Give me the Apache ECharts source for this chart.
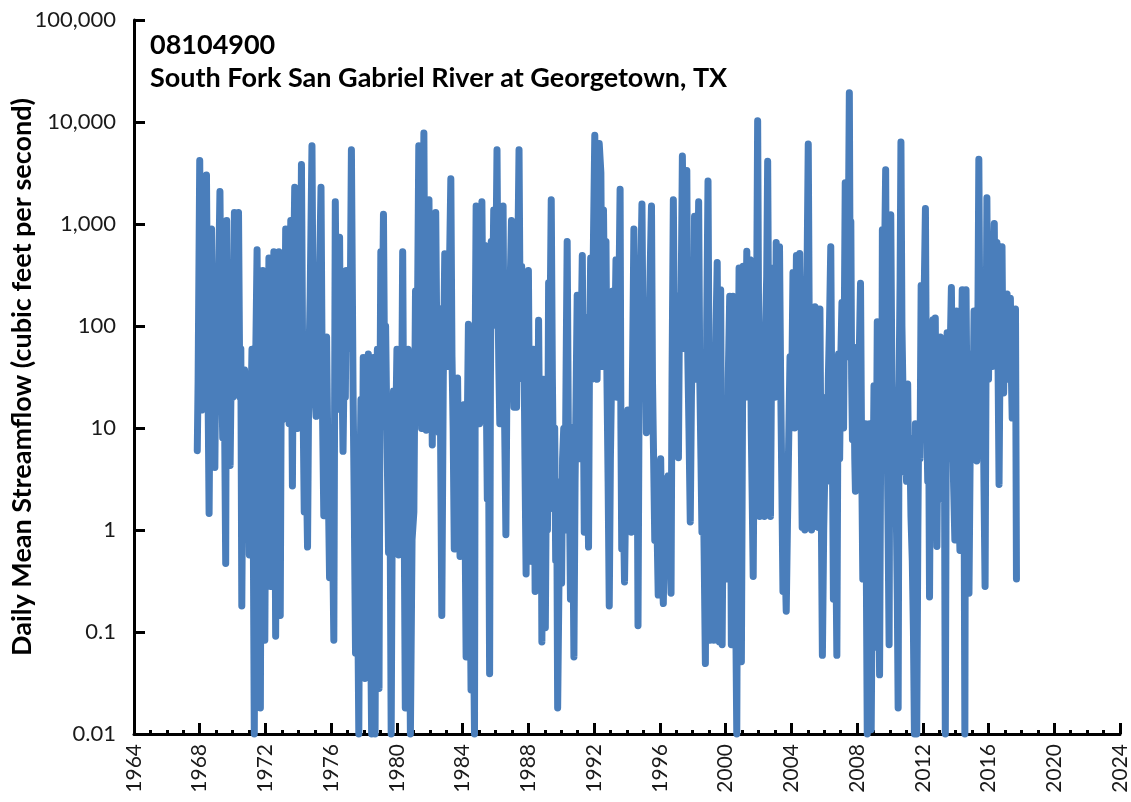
<!DOCTYPE html>
<html>
<head>
<meta charset="utf-8">
<script src="https://cdn.jsdelivr.net/npm/echarts@6/dist/echarts.min.js"></script>
<style>
  html, body { margin: 0; padding: 0; background: #fff; }
  #chart { width: 1131px; height: 802px; }
</style>
</head>
<body>
<div id="chart"></div>
<script>
// Station identification
const stationId = '08104900';
const stationName = 'South Fork San Gabriel River at Georgetown, TX';
const yAxisTitle = 'Daily Mean Streamflow (cubic feet per second)';

// Axis ticks
const yearTicks = [1964, 1968, 1972, 1976, 1980, 1984, 1988, 1992, 1996, 2000, 2004, 2008, 2012, 2016, 2020, 2024];
const flowTicks = [0.01, 0.1, 1, 10, 100, 1000, 10000, 100000];

// Daily mean streamflow samples, [decimal year, cfs], grouped by period
const flows1967to1979 = [
  [1967.85, 6], [1967.90, 28], [1968.00, 4200], [1968.06, 60], [1968.12, 15], [1968.21, 40], [1968.30, 120],
  [1968.41, 3030], [1968.50, 30], [1968.57, 1.45], [1968.64, 50], [1968.72, 895], [1968.80, 20], [1968.86, 80],
  [1968.92, 4.1], [1969.00, 150], [1969.08, 25], [1969.15, 300], [1969.23, 2080], [1969.32, 40], [1969.40, 8],
  [1969.48, 60], [1969.58, 0.47], [1969.64, 1080], [1969.72, 30], [1969.78, 120], [1969.85, 4.3], [1969.93, 60],
  [1970.02, 20], [1970.11, 1300], [1970.17, 80], [1970.23, 25], [1970.30, 200], [1970.36, 1300], [1970.44, 20],
  [1970.50, 60], [1970.56, 0.18], [1970.65, 30], [1970.73, 37], [1970.80, 3], [1970.87, 25], [1970.93, 16],
  [1971.02, 0.57], [1971.10, 10], [1971.18, 59], [1971.25, 2], [1971.32, 0.01], [1971.40, 40], [1971.49, 560],
  [1971.56, 5], [1971.62, 30], [1971.69, 0.018], [1971.76, 60], [1971.84, 350], [1971.90, 3], [1971.96, 0.083],
  [1972.05, 40], [1972.13, 8], [1972.21, 465], [1972.26, 20], [1972.31, 0.28], [1972.38, 50], [1972.44, 6],
  [1972.51, 535], [1972.56, 10], [1972.62, 0.091], [1972.70, 80], [1972.76, 15], [1972.82, 535], [1972.90, 0.145],
  [1972.96, 30], [1973.03, 12], [1973.10, 150], [1973.16, 30], [1973.23, 895], [1973.30, 60], [1973.37, 200],
  [1973.44, 11], [1973.54, 1080], [1973.59, 40], [1973.64, 2.7], [1973.71, 300], [1973.78, 2290], [1973.86, 50],
  [1973.95, 9.9], [1974.02, 200], [1974.10, 40], [1974.19, 3840], [1974.27, 30], [1974.36, 1.5], [1974.44, 20],
  [1974.50, 3], [1974.56, 0.68], [1974.64, 40], [1974.72, 200], [1974.83, 5860], [1974.90, 100], [1974.98, 25],
  [1975.08, 13], [1975.15, 200], [1975.22, 50], [1975.30, 400], [1975.38, 2290], [1975.46, 20], [1975.55, 1.38],
  [1975.63, 15], [1975.72, 78], [1975.80, 5], [1975.90, 0.34], [1976.00, 8], [1976.08, 1], [1976.16, 0.083],
  [1976.25, 1650], [1976.32, 60], [1976.38, 200], [1976.44, 30], [1976.51, 740], [1976.58, 15], [1976.65, 40],
  [1976.72, 5.9], [1976.80, 60], [1976.86, 20], [1976.92, 350], [1977.00, 60], [1977.08, 300], [1977.15, 100],
  [1977.23, 5330], [1977.33, 23], [1977.40, 2], [1977.48, 0.062], [1977.58, 1], [1977.68, 0.01], [1977.75, 3],
  [1977.81, 19], [1977.88, 0.5], [1977.95, 49], [1978.05, 0.035], [1978.12, 5], [1978.19, 0.3], [1978.26, 53],
  [1978.36, 0.5], [1978.46, 0.01], [1978.56, 49], [1978.62, 1], [1978.67, 0.01], [1978.74, 10], [1978.81, 59],
  [1978.91, 0.028], [1978.97, 20], [1979.02, 535], [1979.10, 50], [1979.18, 1245], [1979.25, 30], [1979.31, 100],
  [1979.38, 13], [1979.49, 0.6], [1979.57, 5], [1979.65, 0.01], [1979.72, 2], [1979.79, 23], [1979.86, 1],
  [1979.93, 10]
];
const flows1980to1989 = [
  [1980.00, 59], [1980.05, 3], [1980.10, 0.57], [1980.18, 20], [1980.25, 2], [1980.35, 535], [1980.42, 5],
  [1980.51, 0.018], [1980.60, 3], [1980.68, 59], [1980.75, 0.5], [1980.82, 0.01], [1980.92, 0.8], [1981.03, 1.5],
  [1981.13, 220], [1981.20, 30], [1981.26, 200], [1981.33, 5860], [1981.40, 60], [1981.50, 9.9], [1981.57, 300],
  [1981.64, 7800], [1981.70, 100], [1981.78, 9.5], [1981.86, 200], [1981.95, 1730], [1982.02, 50], [1982.08, 300],
  [1982.15, 6.8], [1982.22, 100], [1982.29, 30], [1982.36, 1300], [1982.44, 40], [1982.50, 150], [1982.56, 9],
  [1982.64, 20], [1982.73, 0.145], [1982.82, 30], [1982.91, 510], [1982.98, 60], [1983.06, 200], [1983.14, 40],
  [1983.21, 500], [1983.28, 2770], [1983.35, 50], [1983.42, 10], [1983.49, 0.65], [1983.57, 5], [1983.63, 1],
  [1983.69, 31], [1983.76, 3], [1983.84, 0.55], [1983.92, 5], [1984.00, 8.2], [1984.10, 17], [1984.15, 1],
  [1984.21, 0.057], [1984.28, 10], [1984.35, 104], [1984.42, 2], [1984.51, 0.027], [1984.60, 0.5], [1984.66, 0.1],
  [1984.72, 0.01], [1984.77, 100], [1984.82, 1500], [1984.90, 60], [1984.96, 200], [1985.03, 11], [1985.10, 300],
  [1985.17, 1650], [1985.24, 80], [1985.30, 150], [1985.37, 615], [1985.44, 20], [1985.50, 2], [1985.57, 10],
  [1985.64, 0.039], [1985.69, 30], [1985.74, 675], [1985.80, 100], [1985.89, 1370], [1985.95, 150], [1986.02, 400],
  [1986.09, 5330], [1986.15, 200], [1986.20, 40], [1986.26, 11], [1986.33, 300], [1986.40, 100], [1986.46, 1500],
  [1986.52, 30], [1986.58, 5], [1986.63, 0.9], [1986.70, 40], [1986.77, 290], [1986.84, 60], [1986.90, 300],
  [1986.97, 1080], [1987.05, 50], [1987.12, 16], [1987.20, 200], [1987.28, 16], [1987.35, 400], [1987.43, 5330],
  [1987.50, 100], [1987.59, 385], [1987.66, 30], [1987.72, 100], [1987.79, 5], [1987.86, 0.37], [1987.93, 20],
  [1988.00, 350], [1988.07, 10], [1988.14, 40], [1988.21, 0.49], [1988.31, 59], [1988.41, 0.25], [1988.48, 10],
  [1988.55, 2], [1988.62, 114], [1988.70, 3], [1988.76, 15], [1988.82, 0.08], [1988.92, 30], [1989.03, 0.11],
  [1989.10, 5], [1989.16, 1], [1989.23, 265], [1989.30, 50], [1989.39, 1730], [1989.46, 30], [1989.54, 1.6],
  [1989.60, 10], [1989.66, 0.5], [1989.72, 3], [1989.78, 0.018], [1989.86, 0.3], [1989.95, 1.38]
];
const flows1990to1999 = [
  [1990.02, 0.3], [1990.08, 5], [1990.15, 9.9], [1990.22, 1], [1990.29, 30], [1990.36, 675], [1990.43, 10],
  [1990.50, 2], [1990.56, 0.21], [1990.66, 10], [1990.77, 0.057], [1990.84, 3], [1990.90, 20], [1990.97, 200],
  [1991.04, 10], [1991.10, 60], [1991.16, 5], [1991.22, 100], [1991.28, 490], [1991.34, 20], [1991.40, 0.95],
  [1991.46, 30], [1991.52, 120], [1991.59, 5], [1991.66, 0.68], [1991.72, 60], [1991.79, 465], [1991.86, 30],
  [1991.93, 300], [1992.04, 7400], [1992.11, 200], [1992.18, 30], [1992.25, 500], [1992.31, 6140], [1992.41, 3190],
  [1992.46, 200], [1992.51, 40], [1992.57, 1370], [1992.65, 60], [1992.72, 675], [1992.78, 30], [1992.85, 3],
  [1992.92, 0.18], [1992.99, 5], [1993.06, 30], [1993.13, 220], [1993.20, 20], [1993.27, 100], [1993.33, 445],
  [1993.39, 40], [1993.45, 20], [1993.52, 300], [1993.58, 2190], [1993.63, 10], [1993.68, 0.65], [1993.75, 5],
  [1993.80, 1], [1993.85, 0.31], [1993.93, 3], [1994.00, 1], [1994.05, 15], [1994.12, 2], [1994.19, 8],
  [1994.26, 0.95], [1994.33, 30], [1994.42, 895], [1994.49, 30], [1994.55, 5], [1994.61, 20], [1994.67, 0.115],
  [1994.74, 30], [1994.82, 200], [1994.91, 1570], [1994.98, 60], [1995.05, 20], [1995.12, 80], [1995.18, 9],
  [1995.25, 100], [1995.32, 40], [1995.40, 300], [1995.49, 1500], [1995.55, 30], [1995.62, 5], [1995.69, 0.79],
  [1995.76, 3], [1995.83, 1], [1995.90, 0.23], [1995.97, 2], [1996.05, 5], [1996.12, 0.5], [1996.21, 0.19],
  [1996.28, 1], [1996.35, 3.2], [1996.43, 0.5], [1996.51, 3.4], [1996.59, 1], [1996.68, 0.24], [1996.74, 30],
  [1996.82, 1730], [1996.89, 60], [1996.95, 200], [1997.02, 20], [1997.08, 60], [1997.13, 5.1], [1997.20, 200],
  [1997.28, 100], [1997.37, 4640], [1997.45, 200], [1997.52, 60], [1997.58, 500], [1997.64, 3340], [1997.70, 50],
  [1997.77, 10], [1997.85, 1.2], [1997.92, 20], [1997.99, 100], [1998.05, 30], [1998.11, 1190], [1998.18, 100],
  [1998.25, 30], [1998.31, 300], [1998.36, 1650], [1998.43, 30], [1998.50, 5], [1998.56, 0.95], [1998.62, 5],
  [1998.70, 0.5], [1998.77, 0.049], [1998.85, 100], [1998.93, 2640], [1999.00, 20], [1999.06, 0.083], [1999.12, 5],
  [1999.18, 59], [1999.28, 0.083], [1999.35, 10], [1999.42, 100], [1999.49, 420], [1999.56, 5], [1999.62, 0.08],
  [1999.70, 227], [1999.79, 0.075], [1999.86, 3], [1999.93, 0.5]
];
const flows2000to2009 = [
  [2000.00, 5], [2000.08, 0.33], [2000.16, 30], [2000.25, 196], [2000.30, 5], [2000.35, 0.075], [2000.45, 196],
  [2000.52, 3], [2000.60, 0.3], [2000.68, 0.01], [2000.75, 10], [2000.82, 370], [2000.90, 3], [2000.96, 0.051],
  [2001.07, 385], [2001.14, 50], [2001.20, 20], [2001.29, 540], [2001.35, 60], [2001.40, 30], [2001.50, 445],
  [2001.56, 10], [2001.62, 2], [2001.68, 0.35], [2001.75, 20], [2001.82, 300], [2001.88, 100], [2001.95, 10300],
  [2002.01, 100], [2002.07, 1.36], [2002.15, 30], [2002.20, 10], [2002.26, 86], [2002.31, 5], [2002.36, 1.36],
  [2002.43, 100], [2002.50, 300], [2002.56, 4120], [2002.62, 80], [2002.68, 10], [2002.73, 1.36], [2002.80, 50],
  [2002.87, 370], [2002.93, 60], [2003.00, 20], [2003.08, 660], [2003.13, 100], [2003.18, 40], [2003.28, 600],
  [2003.35, 30], [2003.42, 3], [2003.49, 0.25], [2003.55, 2], [2003.62, 0.5], [2003.69, 0.16], [2003.76, 1],
  [2003.84, 7.7], [2003.92, 50], [2004.00, 10], [2004.05, 60], [2004.10, 335], [2004.15, 40], [2004.20, 10],
  [2004.31, 490], [2004.36, 50], [2004.41, 15], [2004.46, 100], [2004.51, 515], [2004.58, 20], [2004.66, 1.06],
  [2004.74, 10], [2004.82, 1.0], [2004.90, 100], [2004.96, 400], [2005.03, 6070], [2005.10, 50], [2005.16, 10],
  [2005.23, 1.0], [2005.30, 20], [2005.37, 5], [2005.44, 154], [2005.50, 20], [2005.57, 3], [2005.64, 1.06],
  [2005.69, 30], [2005.74, 147], [2005.80, 5], [2005.89, 0.059], [2005.97, 1], [2006.05, 4.75], [2006.12, 20],
  [2006.18, 3], [2006.25, 30], [2006.32, 100], [2006.40, 600], [2006.46, 20], [2006.52, 2], [2006.56, 0.21],
  [2006.66, 5], [2006.77, 0.059], [2006.83, 10], [2006.87, 53], [2006.94, 5], [2007.00, 40], [2007.08, 170],
  [2007.13, 20], [2007.18, 10], [2007.28, 2540], [2007.35, 200], [2007.40, 50], [2007.46, 500], [2007.53, 19300],
  [2007.58, 200], [2007.62, 1060], [2007.67, 30], [2007.72, 7.7], [2007.80, 50], [2007.86, 5], [2007.90, 2.4],
  [2007.95, 20], [2008.00, 62], [2008.06, 10], [2008.13, 50], [2008.21, 262], [2008.28, 5], [2008.35, 0.33],
  [2008.43, 2], [2008.51, 11], [2008.56, 0.5], [2008.62, 0.01], [2008.69, 1], [2008.76, 11], [2008.81, 0.3],
  [2008.86, 0.011], [2008.95, 1], [2009.03, 26], [2009.08, 1], [2009.13, 0.071], [2009.18, 5], [2009.23, 110],
  [2009.30, 2], [2009.37, 0.038], [2009.45, 20], [2009.50, 5], [2009.54, 877], [2009.60, 60], [2009.67, 400],
  [2009.74, 3400], [2009.80, 30], [2009.87, 2], [2009.95, 0.075]
];
const flows2010to2017 = [
  [2010.00, 50], [2010.05, 1230], [2010.12, 30], [2010.19, 10], [2010.26, 3.7], [2010.33, 20], [2010.40, 1],
  [2010.45, 0.2], [2010.50, 0.018], [2010.56, 30], [2010.62, 300], [2010.67, 6370], [2010.73, 100], [2010.80, 20],
  [2010.87, 3.7], [2010.94, 10], [2011.01, 3], [2011.08, 27], [2011.14, 3], [2011.21, 8], [2011.28, 1.36],
  [2011.36, 0.5], [2011.43, 0.1], [2011.49, 0.01], [2011.55, 11], [2011.63, 0.01], [2011.70, 1], [2011.75, 11],
  [2011.83, 5], [2011.90, 250], [2011.97, 30], [2012.03, 100], [2012.10, 300], [2012.16, 1420], [2012.22, 20],
  [2012.30, 3], [2012.36, 10], [2012.41, 0.22], [2012.48, 20], [2012.55, 5], [2012.62, 115], [2012.70, 5],
  [2012.76, 120], [2012.82, 3], [2012.86, 0.69], [2012.93, 20], [2013.00, 3], [2013.07, 78], [2013.14, 10],
  [2013.20, 2], [2013.30, 50], [2013.37, 0.01], [2013.43, 10], [2013.48, 86], [2013.54, 10], [2013.60, 5],
  [2013.67, 60], [2013.74, 238], [2013.80, 20], [2013.87, 3], [2013.95, 0.8], [2014.00, 20], [2014.05, 140],
  [2014.12, 10], [2014.19, 2], [2014.26, 0.63], [2014.33, 30], [2014.40, 227], [2014.46, 5], [2014.52, 1],
  [2014.56, 0.01], [2014.60, 30], [2014.63, 227], [2014.70, 10], [2014.76, 1], [2014.81, 0.24], [2014.88, 5],
  [2014.97, 53], [2015.04, 10], [2015.12, 140], [2015.20, 20], [2015.28, 4.75], [2015.35, 100], [2015.41, 4320],
  [2015.47, 100], [2015.53, 30], [2015.59, 6.4], [2015.66, 40], [2015.72, 3], [2015.79, 0.28], [2015.85, 50],
  [2015.90, 1810], [2015.95, 100], [2016.00, 30], [2016.05, 200], [2016.10, 350], [2016.16, 50], [2016.22, 40],
  [2016.28, 300], [2016.35, 1010], [2016.40, 100], [2016.45, 60], [2016.51, 660], [2016.58, 40], [2016.64, 2.8],
  [2016.70, 50], [2016.76, 200], [2016.82, 600], [2016.87, 60], [2016.92, 22], [2016.98, 100], [2017.05, 40],
  [2017.13, 206], [2017.18, 50], [2017.23, 30], [2017.33, 187], [2017.38, 40], [2017.44, 12.5], [2017.50, 60],
  [2017.57, 30], [2017.64, 147], [2017.70, 0.33]
];

const seriesData = [].concat(flows1967to1979, flows1980to1989, flows1990to1999, flows2000to2009, flows2010to2017);

function fmtFlow(v) {
  const n = Number(Number(v).toPrecision(2));
  return n >= 1 ? n.toLocaleString('en-US') : String(n);
}

const FONT = 'Lato';

const chart = echarts.init(document.getElementById('chart'), null, { renderer: 'canvas' });

chart.setOption({
  animation: false,
  backgroundColor: '#ffffff',
  textStyle: { fontFamily: FONT },
  title: {
    text: stationId + '\n' + stationName,
    left: 145,
    top: 24,
    textStyle: {
      fontFamily: FONT,
      fontSize: 27,
      fontWeight: 'bold',
      color: '#000',
      lineHeight: 33
    }
  },
  grid: { left: 134, right: 11, top: 20, bottom: 68, containLabel: false, outerBoundsMode: 'none' },
  xAxis: {
    type: 'value',
    min: yearTicks[0],
    max: yearTicks[yearTicks.length - 1],
    interval: 4,
    splitLine: { show: false },
    axisLine: { show: true, onZero: false, lineStyle: { color: '#000', width: 3 } },
    axisTick: { show: true, inside: true, length: 11, lineStyle: { color: '#000', width: 3 } },
    minorTick: { show: true, splitNumber: 4, length: 4, lineStyle: { color: '#000', width: 3 } },
    minorSplitLine: { show: false },
    axisLabel: {
      rotate: 90,
      margin: 10,
      fontSize: 21,
      color: '#1a1a1a',
      formatter: v => String(v)
    }
  },
  yAxis: {
    type: 'log',
    logBase: 10,
    min: flowTicks[0],
    max: flowTicks[flowTicks.length - 1],
    name: yAxisTitle,
    nameLocation: 'middle',
    nameGap: 98,
    nameMoveOverlap: false,
    nameTextStyle: { fontFamily: FONT, fontSize: 27, fontWeight: 'bold', color: '#000' },
    splitLine: { show: false },
    axisLine: { show: true, onZero: false, lineStyle: { color: '#000', width: 3 } },
    axisTick: { show: true, inside: true, length: 11, lineStyle: { color: '#000', width: 3 } },
    axisLabel: { fontSize: 22, color: '#1a1a1a', margin: 18, formatter: fmtFlow }
  },
  series: [{
    type: 'line',
    data: seriesData,
    showSymbol: false,
    clip: false,
    lineStyle: { color: '#4a7ebb', width: 7, cap: 'round', join: 'round' },
    emphasis: { disabled: true }
  }]
});
</script>
</body>
</html>
